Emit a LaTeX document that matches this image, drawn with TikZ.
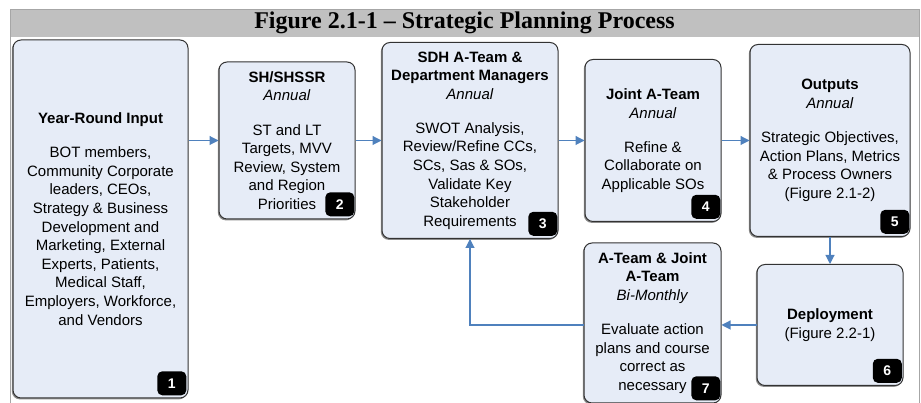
\documentclass[tikz,border=0pt]{standalone}
\usepackage{fontspec}
\setmainfont{Liberation Serif}
\setsansfont{Liberation Sans}
\usetikzlibrary{positioning,arrows.meta,shadows,calc}
\definecolor{boxfill}{RGB}{230,236,247}
\definecolor{flowblue}{RGB}{79,129,189}
\definecolor{bandgray}{RGB}{192,192,192}

\begin{document}
\begin{tikzpicture}[x=1pt,y=1pt,
	stage/.style={draw=black!80,line width=1pt,fill=boxfill,rounded corners=8pt,align=center,inner sep=0pt,
		font=\sffamily\fontsize{15}{18.6}\selectfont,
		drop shadow={shadow xshift=-1.2pt,shadow yshift=-1.4pt,fill=black!45,opacity=1}},
	badge/.style={fill=black,rounded corners=5pt,text=white,inner sep=0pt,minimum width=29pt,minimum height=24pt,
		font=\sffamily\bfseries\fontsize{14}{14}\selectfont,anchor=south east},
	flow/.style={draw=flowblue,line width=1.1pt,-{Triangle[length=9pt,width=9pt]}}]
	\useasboundingbox (0,0) rectangle (921,403);
	
	%% Frame and title band
	\fill[bandgray] (10,394) rectangle (919,366);
	\draw[black!35] (10,0) -- (10,394) -- (919,394) -- (919,0);
	\node (title) at (464.5,380) {\bfseries\fontsize{24}{28}\selectfont Figure 2.1-1 -- Strategic Planning Process};
	
	%% Input
	\node (input) [stage,minimum width=175pt,minimum height=358pt] at (100.5,184)
	{\textbf{Year-Round Input}\\[15.5pt]
	 BOT members,\\Community Corporate\\leaders, CEOs,\\Strategy \& Business\\Development and\\
	 Marketing, External\\Experts, Patients,\\Medical Staff,\\Employers, Workforce,\\and Vendors};
	
	%% Annual chain
	\node (shssr) [stage,minimum width=136pt,minimum height=157pt] at (287,262.5)
	{\textbf{SH/SHSSR}\\\textit{Annual}\\[15.5pt]
	 ST and LT\\Targets, MVV\\Review, System\\and Region\\Priorities};
	\draw[flow] (input.east |- shssr.west) -- (shssr.west);
	
	\node (sdh) [right=26pt of shssr,stage,minimum width=176pt,minimum height=196pt]
	{\textbf{SDH A-Team \&}\\\textbf{Department Managers}\\\textit{Annual}\\[15.5pt]
	 SWOT Analysis,\\Review/Refine CCs,\\SCs, Sas \& SOs,\\Validate Key\\Stakeholder\\Requirements};
	\draw[flow] (shssr.east) -- (sdh.west |- shssr.east);
	
	\node (joint) [right=26pt of sdh,stage,minimum width=136pt,minimum height=162pt]
	{\textbf{Joint A-Team}\\\textit{Annual}\\[15.5pt]
	 Refine \&\\Collaborate on\\Applicable SOs};
	\draw[flow] (sdh.east) -- (joint.west |- sdh.east);
	
	\node (outputs) [right=28pt of joint,stage,minimum width=160pt,minimum height=192pt]
	{\textbf{Outputs}\\\textit{Annual}\\[15.5pt]
	 Strategic Objectives,\\Action Plans, Metrics\\\& Process Owners\\(Figure 2.1-2)};
	\draw[flow] (joint.east) -- (outputs.west |- joint.east);
	
	%% Deployment and review loop
	\node (deploy) [below=27pt of outputs,stage,minimum width=146pt,minimum height=121pt]
	{\textbf{Deployment}\\(Figure 2.2-1)};
	\draw[flow] (outputs.south) -- (deploy.north);
	
	\node (review) [left=35pt of deploy,yshift=2pt,stage,minimum width=137pt,minimum height=160pt]
	{\textbf{A-Team \& Joint}\\\textbf{A-Team}\\\textit{Bi-Monthly}\\[15.5pt]
	 Evaluate action\\plans and course\\correct as\\necessary};
	\draw[flow] (deploy.west) -- (review.east |- deploy.west);
	\draw[flow] (review.west |- deploy.west) -| (sdh.south);
	
	%% Step numbers
	\node (n1) [badge] at ([shift={(-2pt,3pt)}]input.south east) {1};
	\node (n2) [badge] at ([shift={(-1pt,3pt)}]shssr.south east) {2};
	\node (n3) [badge] at ([shift={(-1pt,3pt)}]sdh.south east) {3};
	\node (n4) [badge] at ([shift={(-1pt,3pt)}]joint.south east) {4};
	\node (n5) [badge] at ([shift={(-1pt,3pt)}]outputs.south east) {5};
	\node (n6) [badge] at ([shift={(-1.5pt,3pt)}]deploy.south east) {6};
	\node (n7) [badge] at ([shift={(-1pt,3pt)}]review.south east) {7};
\end{tikzpicture}
\end{document}
